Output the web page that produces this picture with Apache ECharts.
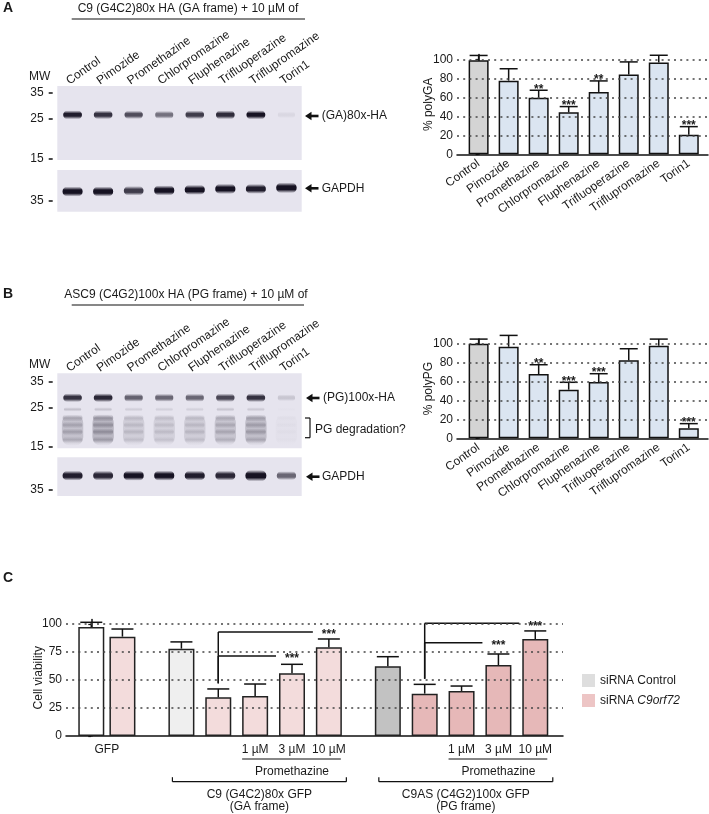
<!DOCTYPE html>
<html>
<head>
<meta charset="utf-8">
<script src="https://cdn.jsdelivr.net/npm/echarts@6/dist/echarts.min.js"></script>
<style>html,body{margin:0;padding:0;background:#fff}#c{width:709px;height:814px}</style>
</head>
<body>
<div id="c"></div>
<script>
// ================= DATA =================
const lanes = ['Control', 'Pimozide', 'Promethazine', 'Chlorpromazine', 'Fluphenazine', 'Trifluoperazine', 'Triflupromazine', 'Torin1'];
const mwTicksUpper = [35, 25, 15];
const mwTicksLower = [35];

// Blot A : (GA)80x-HA and GAPDH (relative band intensities)
const blotAUpperRange = [14.67, 38.4];   // kDa visible on membrane
const blotALowerRange = [30.3, 52.2];
const gaBandMW = 26.4;
const gaBand = [0.95, 0.85, 0.72, 0.55, 0.8, 0.88, 1.0, 0.06];
const gapdhAMW = [39.4, 39.4, 39.8, 40.0, 40.3, 40.8, 40.8, 41.4];
const gapdhA = [1.0, 1.0, 0.8, 1.0, 1.0, 1.05, 0.95, 1.2];

// Blot B : (PG)100x-HA, degradation products and GAPDH
const blotBUpperRange = [14.69, 39.05];
const blotBLowerRange = [32.36, 53.6];
const pgBandMW = 28.4;
const pgBand = [0.85, 0.9, 0.62, 0.6, 0.6, 0.75, 0.85, 0.14];
const pgFaintMW = 24.4;
const pgFaint = [0.16, 0.14, 0.1, 0.09, 0.09, 0.14, 0.12, 0.01];
const pgDegrMW = [21.8, 19.9, 18.2, 16.4];
const pgDegrRel = [1.0, 0.8, 0.85, 0.6];
const pgDegr = [0.55, 0.72, 0.35, 0.32, 0.36, 0.5, 0.6, 0.05];
const gapdhBMW = 42.2;
const gapdhB = [0.95, 0.9, 1.0, 1.0, 0.95, 0.9, 1.45, 0.6];

// Quantification (% of control, mean and SEM)
const quantTicks = [0, 20, 40, 60, 80, 100];
const polyGA = [99, 77.5, 59.6, 44.2, 65.6, 83.9, 96.5, 20.7];
const polyGASem = [5, 12.5, 7.8, 6, 11.6, 13.3, 7.7, 8.4];
const polyGASig = ['', '', '**', '***', '**', '', '', '***'];
const polyPG = [100, 96.8, 68, 51.4, 59.5, 82.4, 97.9, 10.6];
const polyPGSem = [4.9, 12, 9.8, 7.8, 8.8, 12.3, 7, 4.9];
const polyPGSig = ['', '', '**', '***', '***', '', '', '***'];

// Panel C : cell viability
const viabTicks = [0, 25, 50, 75, 100];
const viabConstruct = ['GFP', 'GFP', 'GA', 'GA', 'GA', 'GA', 'GA', 'PG', 'PG', 'PG', 'PG', 'PG'];
const viabSiRNA = ['Control', 'C9orf72', 'Control', 'C9orf72', 'C9orf72', 'C9orf72', 'C9orf72', 'Control', 'C9orf72', 'C9orf72', 'C9orf72', 'C9orf72'];
const viabDose = ['', '', '', '', '1 µM', '3 µM', '10 µM', '', '', '1 µM', '3 µM', '10 µM'];
const viability = [97.3, 88.7, 78, 34.5, 35.7, 56, 79.2, 62.2, 37.8, 40.2, 63.4, 86.6];
const viabSem = [4.2, 6.8, 6, 7.5, 10.7, 8, 7.4, 8.6, 8.3, 4.4, 9.8, 7.2];
const sigRef = [3, 3, 8, 8];
const sigCmp = [5, 6, 10, 11];
const sigLevel = [71.4, 92.9, 83.3, 100.6];
const sigLabel = ['***', '***', '***', '***'];
const constructNames = { GA: ['C9 (G4C2)80x GFP', '(GA frame)'], PG: ['C9AS (C4G2)100x GFP', '(PG frame)'] };
const legendNames = ['siRNA Control', 'siRNA C9orf72'];

// ================= STYLE / LAYOUT =================
const FONT = '"Liberation Sans", Arial, Helvetica, sans-serif';
const INK = '#1a1a1a';
const BLOT_BG = '#e6e4ee';
const BAND_INK = [22, 18, 34];
const barColorA = (i) => (i === 0 ? '#d4d4d4' : '#dbe5f1');
const viabColor = { GFP: { Control: '#ffffff', C9orf72: '#f3dcdc' }, GA: { Control: '#efefef', C9orf72: '#f3dcdc' }, PG: { Control: '#c2c2c2', C9orf72: '#e6b8b8' } };
const legendColor = ['#d6d6d6', '#e8b6b6'];

// x positions (slot units) for panel C bars from the grouping
const viabPos = (() => {
  const out = []; let x = 0;
  viabConstruct.forEach((g, i) => {
    if (i > 0) x += (g !== viabConstruct[i - 1]) ? 1.6 : (g === 'GFP' ? 0.845 : 1.0);
    out.push(x);
  });
  return out;
})();
const gfpCenter = (viabPos[0] + viabPos[1]) / 2;

const L10 = Math.log10;
// band kinds: 0 main, 1 gapdh, 2 degradation band, 3 faint, 4 smear
const BAND = [
  { w: 0.62, h: 9, core: 0.3, k: 1 },
  { w: 0.66, h: 10, core: 0.34, k: 1 },
  { w: 0.68, h: 8, core: 0.0, k: 0.45 },
  { w: 0.62, h: 6, core: 0.1, k: 1 },
  { w: 0.7, h: 0, core: 0.6, k: 0.3 }
];
function bandData(kind, mw, inten) {
  return lanes.map((_, i) => [i, L10(Array.isArray(mw) ? mw[i] : mw), inten[i], kind]);
}
const rgba = (a) => `rgba(${BAND_INK.join(',')},${Math.max(0, Math.min(1, a)).toFixed(3)})`;
function blotRender(params, api) {
  const lane = api.value(0), y = api.value(1), a = api.value(2), k = api.value(3);
  const c = api.coord([lane, y]);
  const bw = api.size([1, 0])[0];
  const s = BAND[k];
  const ia = Math.min(a, 1);
  let w = bw * s.w * (0.9 + 0.1 * a), h = s.h * (0.7 + 0.3 * a);
  let cy = c[1];
  if (k === 4) {
    const t = api.coord([lane, L10(22.8)])[1], b = api.coord([lane, L10(15.2)])[1];
    h = Math.abs(b - t); cy = (t + b) / 2; w = bw * s.w;
  }
  const alpha = ia * s.k;
  const c0 = (1 - s.core) / 2, c1 = (1 + s.core) / 2;
  return {
    type: 'rect',
    shape: { x: c[0] - w / 2, y: cy - h / 2, width: w, height: h, r: Math.min(h / 2, w / 2.5) },
    style: {
      fill: {
        type: 'linear', x: 0, y: 0, x2: 0, y2: 1,
        colorStops: [
          { offset: 0, color: rgba(0) }, { offset: c0, color: rgba(alpha) },
          { offset: c1, color: rgba(alpha) }, { offset: 1, color: rgba(0) }
        ]
      }
    }
  };
}

function errRender(capW, sig) {
  return (params, api) => {
    const x = api.value(0), m = api.value(1), e = api.value(2);
    const p0 = api.coord([x, m]), p1 = api.coord([x, m + e]);
    const st = { stroke: '#111', lineWidth: 1.5 };
    const ch = [
      { type: 'line', shape: { x1: p0[0], y1: p0[1], x2: p1[0], y2: p1[1] }, style: st },
      { type: 'line', shape: { x1: p0[0] - capW / 2, y1: p1[1], x2: p0[0] + capW / 2, y2: p1[1] }, style: st }
    ];
    const lab = sig ? sig[params.dataIndex] : '';
    if (lab) ch.push({ type: 'text', x: p0[0], y: p1[1] - 1, style: { text: lab, font: `bold 12px ${FONT}`, fill: INK, align: 'center', verticalAlign: 'middle', textAlign: 'center', textVerticalAlign: 'middle' } });
    return { type: 'group', children: ch };
  };
}

function sigRender(params, api) {
  const rx = api.value(0), cx = api.value(1), lv = api.value(2), base = api.value(3);
  const pr = api.coord([rx, lv]), pc = api.coord([cx, lv]);
  const pb = api.coord([rx, base]);
  const st = { stroke: '#111', lineWidth: 1.5 };
  return {
    type: 'group', children: [
      { type: 'line', shape: { x1: pr[0], y1: pb[1], x2: pr[0], y2: pr[1] }, style: st },
      { type: 'line', shape: { x1: pr[0], y1: pr[1], x2: pc[0] - 16, y2: pr[1] }, style: st },
      { type: 'text', x: pc[0], y: pr[1] + 3, style: { text: sigLabel[params.dataIndex], font: `bold 12px ${FONT}`, fill: INK, align: 'center', verticalAlign: 'middle', textAlign: 'center', textVerticalAlign: 'middle' } }
    ]
  };
}

const dotted = { type: [2, 4.2], color: '#444', width: 1.5 };
function gridMarkLine(values) {
  return { silent: true, symbol: 'none', animation: false, label: { show: false }, lineStyle: dotted, emphasis: { disabled: true }, data: values.filter(v => v > 0).map(v => ({ yAxis: v })) };
}

const axisTxt = { color: INK, fontSize: 12, fontFamily: FONT };

// grids
const G = (o) => Object.assign({ outerBoundsMode: 'none', containLabel: false }, o);
const grids = [
  G({ left: 57.3, top: 86, width: 244.4, height: 74, show: true, backgroundColor: BLOT_BG, borderWidth: 0 }),     // 0 A upper blot
  G({ left: 57.3, top: 170, width: 244.4, height: 41.7, show: true, backgroundColor: BLOT_BG, borderWidth: 0 }),  // 1 A lower blot
  G({ left: 52.3, top: 86, width: 244.4, height: 20 }),                                                          // 2 A lane labels
  G({ left: 57.3, top: 373.3, width: 244.4, height: 75, show: true, backgroundColor: BLOT_BG, borderWidth: 0 }),  // 3 B upper blot
  G({ left: 57.3, top: 457.3, width: 244.4, height: 38.7, show: true, backgroundColor: BLOT_BG, borderWidth: 0 }),// 4 B lower blot
  G({ left: 52.3, top: 373.3, width: 244.4, height: 20 }),                                                       // 5 B lane labels
  G({ left: 457, right: 1, top: 54.5, height: 99.8 }),                                                           // 6 A quant
  G({ left: 457, right: 1, top: 339, height: 99.3 }),                                                            // 7 B quant
  G({ left: 66, right: 146, top: 619.5, height: 116.5 })                                                         // 8 C viability
];

const blotX = (gi) => ({ gridIndex: gi, type: 'category', data: lanes, show: false, boundaryGap: true });
const laneLabelX = (gi) => ({
  gridIndex: gi, type: 'category', data: lanes, position: 'top', boundaryGap: true,
  axisLine: { show: false }, axisTick: { show: false }, splitLine: { show: false },
  axisLabel: Object.assign({ rotate: 35, margin: 4, interval: 0 }, axisTxt)
});
const quantX = (gi) => ({
  gridIndex: gi, type: 'value', min: -0.72, max: 7.64,
  axisLine: { show: true, onZero: false, lineStyle: { color: '#111', width: 1.5 } },
  axisTick: { show: false }, splitLine: { show: false },
  axisLabel: Object.assign({ rotate: 35, margin: 8, customValues: lanes.map((_, i) => i), formatter: v => lanes[Math.round(v)] || '' }, axisTxt)
});
const viabLabelVals = [gfpCenter].concat(viabPos.filter((p, i) => viabDose[i]));
const viabX = {
  gridIndex: 8, type: 'value', min: -0.686, max: 12.797,
  axisLine: { show: true, onZero: false, lineStyle: { color: '#111', width: 1.5 } },
  axisTick: { show: false }, splitLine: { show: false },
  axisLabel: Object.assign({
    margin: 8, customValues: viabLabelVals,
    formatter: v => {
      if (Math.abs(v - gfpCenter) < 1e-3) return 'GFP';
      const i = viabPos.findIndex(p => Math.abs(p - v) < 1e-3);
      return i >= 0 ? viabDose[i] : '';
    }
  }, axisTxt)
};

const blotY = (gi, range, ticks) => ({
  gridIndex: gi, type: 'value', min: L10(range[0]), max: L10(range[1]), offset: 4.6,
  axisLine: { show: false }, splitLine: { show: false },
  axisTick: { show: true, length: 4, customValues: ticks.map(L10), lineStyle: { color: '#111', width: 1.5 } },
  axisLabel: Object.assign({ margin: 9, customValues: ticks.map(L10), formatter: v => String(Math.round(Math.pow(10, v))) }, axisTxt)
});
const dummyY = (gi) => ({ gridIndex: gi, type: 'value', show: false });
const quantY = (gi, name) => ({
  gridIndex: gi, type: 'value', min: 0, max: 105,
  name: name, nameLocation: 'middle', nameGap: 22, nameMoveOverlap: false,
  nameTextStyle: { color: INK, fontSize: 12, fontFamily: FONT },
  axisLine: { show: true, lineStyle: { color: '#111', width: 1.5 } },
  axisTick: { show: true, length: 3, customValues: quantTicks, lineStyle: { color: '#111', width: 1.2 } },
  splitLine: { show: false },
  axisLabel: Object.assign({ margin: 4, customValues: quantTicks }, axisTxt)
});
const viabY = {
  gridIndex: 8, type: 'value', min: 0, max: 104,
  name: 'Cell viability', nameLocation: 'middle', nameGap: 21, nameMoveOverlap: false,
  nameTextStyle: { color: INK, fontSize: 12, fontFamily: FONT },
  axisLine: { show: true, lineStyle: { color: '#111', width: 1.5 } },
  axisTick: { show: true, length: 3, customValues: viabTicks, lineStyle: { color: '#111', width: 1.2 } },
  splitLine: { show: false },
  axisLabel: Object.assign({ margin: 4, customValues: viabTicks }, axisTxt)
};

const blotSeries = (xi, data) => ({ type: 'custom', xAxisIndex: xi, yAxisIndex: xi, renderItem: blotRender, data: data, silent: true, clip: true });

const degrData = [];
pgDegrMW.forEach((mw, j) => lanes.forEach((_, i) => degrData.push([i, L10(mw), pgDegr[i] * pgDegrRel[j], 2])));

const series = [
  blotSeries(0, bandData(0, gaBandMW, gaBand)),
  blotSeries(1, bandData(1, gapdhAMW, gapdhA)),
  blotSeries(3, bandData(4, 18.5, pgDegr).concat(degrData, bandData(3, pgFaintMW, pgFaint), bandData(0, pgBandMW, pgBand))),
  blotSeries(4, bandData(1, gapdhBMW, gapdhB)),
  { type: 'scatter', xAxisIndex: 2, yAxisIndex: 2, data: [], silent: true },
  { type: 'scatter', xAxisIndex: 5, yAxisIndex: 5, data: [], silent: true },
  // A quant
  {
    type: 'bar', xAxisIndex: 6, yAxisIndex: 6, barWidth: 20, silent: true,
    data: polyGA.map((v, i) => ({ value: [i, v], itemStyle: { color: barColorA(i) } })),
    itemStyle: { borderColor: '#111', borderWidth: 1.5 },
    markLine: gridMarkLine(quantTicks)
  },
  { type: 'custom', xAxisIndex: 6, yAxisIndex: 6, silent: true, renderItem: errRender(18, polyGASig), data: polyGA.map((v, i) => [i, v, polyGASem[i]]), z: 3 },
  // B quant
  {
    type: 'bar', xAxisIndex: 7, yAxisIndex: 7, barWidth: 20, silent: true,
    data: polyPG.map((v, i) => ({ value: [i, v], itemStyle: { color: barColorA(i) } })),
    itemStyle: { borderColor: '#111', borderWidth: 1.5 },
    markLine: gridMarkLine(quantTicks)
  },
  { type: 'custom', xAxisIndex: 7, yAxisIndex: 7, silent: true, renderItem: errRender(18, polyPGSig), data: polyPG.map((v, i) => [i, v, polyPGSem[i]]), z: 3 },
  // C viability
  {
    type: 'bar', xAxisIndex: 8, yAxisIndex: 8, barWidth: 26, silent: true,
    data: viability.map((v, i) => ({ value: [viabPos[i], v], itemStyle: { color: viabColor[viabConstruct[i]][viabSiRNA[i]] } })),
    itemStyle: { borderColor: '#222', borderWidth: 1.5 },
    markLine: gridMarkLine(viabTicks)
  },
  { type: 'custom', xAxisIndex: 8, yAxisIndex: 8, silent: true, renderItem: errRender(22, null), data: viability.map((v, i) => [viabPos[i], v, viabSem[i]]), z: 3 },
  {
    type: 'custom', xAxisIndex: 8, yAxisIndex: 8, silent: true, renderItem: sigRender, z: 3,
    encode: { x: [0, 1], y: [2, 3] },
    data: sigRef.map((r, k) => [viabPos[r], viabPos[sigCmp[k]], sigLevel[k], viability[r] + viabSem[r] + 5])
  },
  { type: 'scatter', name: legendNames[0], xAxisIndex: 8, yAxisIndex: 8, data: [], itemStyle: { color: legendColor[0] } },
  { type: 'scatter', name: legendNames[1], xAxisIndex: 8, yAxisIndex: 8, data: [], itemStyle: { color: legendColor[1] } }
];

const option = {
  animation: false,
  backgroundColor: '#ffffff',
  textStyle: { fontFamily: FONT },
  grid: grids,
  xAxis: [blotX(0), blotX(1), laneLabelX(2), blotX(3), blotX(4), laneLabelX(5), quantX(6), quantX(7), viabX],
  yAxis: [blotY(0, blotAUpperRange, mwTicksUpper), blotY(1, blotALowerRange, mwTicksLower), dummyY(2),
          blotY(3, blotBUpperRange, mwTicksUpper), blotY(4, blotBLowerRange, mwTicksLower), dummyY(5),
          quantY(6, '% polyGA'), quantY(7, '% polyPG'), viabY],
  legend: {
    data: legendNames, orient: 'vertical', left: 577, top: 669, itemWidth: 13, itemHeight: 13, itemGap: 7,
    icon: 'rect', selectedMode: false, itemStyle: { borderWidth: 0 },
    textStyle: { color: INK, fontSize: 12, fontFamily: FONT, rich: { i: { fontStyle: 'italic', fontSize: 12, fontFamily: FONT, color: INK } } },
    formatter: n => n === 'siRNA C9orf72' ? 'siRNA {i|C9orf72}' : n
  },
  series: series
};

const chart = echarts.init(document.getElementById('c'), null, { renderer: 'canvas' });
chart.setOption(option);

// ================= ANNOTATIONS =================
const txt = (text, x, y, o = {}) => ({
  type: 'text', x: x, y: y, silent: true,
  style: {
    text: text, font: `${o.bold ? 'bold ' : ''}${o.size || 12}px ${FONT}`, fill: INK,
    align: o.align || 'left', textAlign: o.align || 'left', verticalAlign: 'middle', textVerticalAlign: 'middle'
  }
});
const ln = (x1, y1, x2, y2, w = 1.2) => ({ type: 'line', silent: true, shape: { x1, y1, x2, y2 }, style: { stroke: '#111', lineWidth: w } });
const arrow = (tip, y) => [
  { type: 'polygon', silent: true, shape: { points: [[tip, y], [tip + 6.5, y - 4.2], [tip + 6.5, y + 4.2]] }, style: { fill: '#111' } },
  { type: 'rect', silent: true, shape: { x: tip + 6, y: y - 1.3, width: 7.5, height: 2.6 }, style: { fill: '#111' } }
];

const gfx = [
  txt('A', 3, 8.5, { bold: true, size: 14 }),
  txt('C9 (G4C2)80x HA (GA frame) + 10 µM of', 188, 8.5, { align: 'center' }),
  ln(71.7, 19, 305, 19),
  txt('MW', 29, 76.7),
  ...arrow(305, 116), txt('(GA)80x-HA', 321.7, 116),
  ...arrow(305, 188.3), txt('GAPDH', 321.7, 188.3),
  txt('B', 3, 294, { bold: true, size: 14 }),
  txt('ASC9 (C4G2)100x HA (PG frame) + 10 µM of', 186, 294.5, { align: 'center' }),
  ln(71.7, 305, 304, 305),
  txt('MW', 29, 365),
  ...arrow(306, 398), txt('(PG)100x-HA', 323, 398),
  ln(305, 418, 310, 418), ln(310, 418, 310, 437.7), ln(305, 437.7, 310, 437.7),
  txt('PG degradation?', 315, 430),
  ...arrow(306, 476.7), txt('GAPDH', 322, 476.7),
  txt('C', 3, 578, { bold: true, size: 14 })
];

// panel C lower annotations aligned to bars
const px = v => chart.convertToPixel({ xAxisIndex: 8 }, v);
const y0 = chart.convertToPixel({ yAxisIndex: 8 }, 0);
['GA', 'PG'].forEach(g => {
  const idx = viabConstruct.map((c, i) => c === g ? i : -1).filter(i => i >= 0);
  const dosed = idx.filter(i => viabDose[i]);
  const dl = px(viabPos[dosed[0]]) - 13, dr = px(viabPos[dosed[dosed.length - 1]]) + 12;
  gfx.push(ln(dl, y0 + 23, dr, y0 + 23));
  gfx.push(txt('Promethazine', px(viabPos[dosed[1]]), y0 + 35.7, { align: 'center' }));
  const bl = px(viabPos[idx[0]]) - 9, br = px(viabPos[idx[idx.length - 1]]) + 17.5;
  gfx.push(ln(bl, y0 + 45.7, br, y0 + 45.7), ln(bl, y0 + 45.7, bl, y0 + 41.2), ln(br, y0 + 45.7, br, y0 + 41.2));
  const mid = (bl + br) / 2;
  gfx.push(txt(constructNames[g][0], mid, y0 + 59, { align: 'center' }));
  gfx.push(txt(constructNames[g][1], mid, y0 + 70.7, { align: 'center' }));
});

chart.setOption({ graphic: { elements: gfx } });
</script>
</body>
</html>
